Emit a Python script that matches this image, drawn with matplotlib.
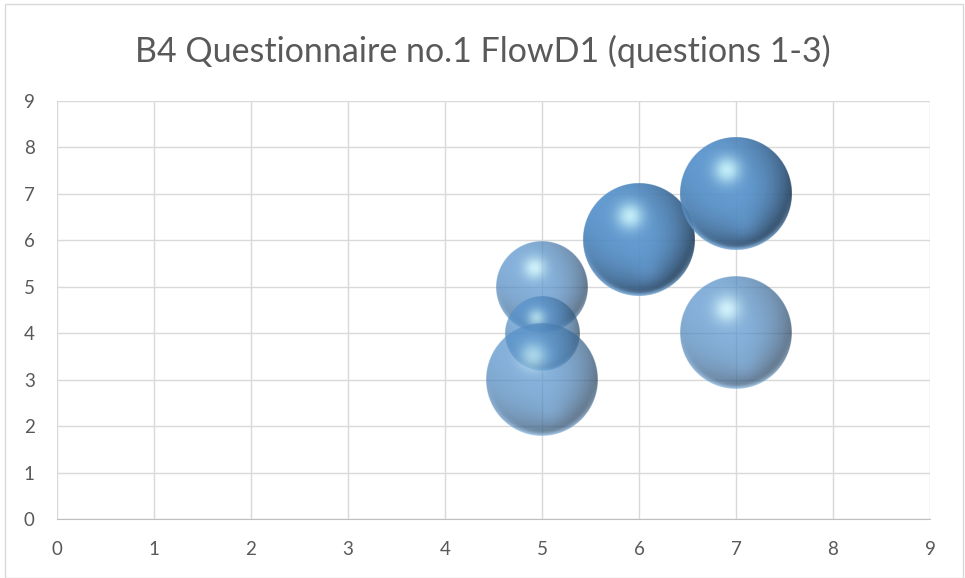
import numpy as np
import matplotlib
matplotlib.use("Agg")
import matplotlib.pyplot as plt
from matplotlib.patches import Rectangle

# bubble data (duplicated points stack up and look darker)
x_vals = [5, 5, 5, 6, 6, 7, 7, 7]
y_vals = [5, 4, 3, 6, 6, 7, 7, 4]
sizes = [6, 4, 9, 9, 9, 9, 9, 9]
ticks = list(range(10))
title = "B4 Questionnaire no.1 FlowD1 (questions 1-3)"

W, H = 965, 578
fig = plt.figure(figsize=(W / 100, H / 100), dpi=100)
plt.rcParams['font.family'] = ['Lato', 'DejaVu Sans']

# chart border
fig.patches.append(Rectangle((5 / W, 0), 958 / W, 574 / H, transform=fig.transFigure,
                             fill=False, edgecolor="#d9d9d9", linewidth=1))

ax = fig.add_axes([57 / W, 59 / H, 873 / W, 418 / H])
ax.set_xlim(0, 9)
ax.set_ylim(0, 9)
ax.set_xticks(ticks)
ax.set_yticks(ticks)
ax.grid(True, color="#d9d9d9", linewidth=1)
ax.set_axisbelow(True)
for s in ["top", "right", "left"]:
    ax.spines[s].set_visible(False)
ax.spines["bottom"].set_color("#bfbfbf")
ax.tick_params(length=0, labelsize=13.5, colors="#595959")
ax.tick_params(axis="x", pad=16)
ax.tick_params(axis="y", pad=16)
fig.text(0.5, 1 - 51 / H, title, ha="center", va="center", fontsize=24.5, color="#595959")


def sphere_image(n=240, alpha=0.72):
    u = np.linspace(-1, 1, n)
    uu, vv = np.meshgrid(u, -u)
    rho = np.sqrt(uu ** 2 + vv ** 2)
    base = np.array([86, 146, 204]) / 255.0
    dark = np.array([18, 34, 52]) / 255.0
    hi = np.array([205, 250, 255]) / 255.0
    rim = np.array([140, 195, 245]) / 255.0
    # edge darkening, stronger toward lower right
    dirw = 0.5 + 0.5 * np.clip((uu - vv) / np.sqrt(2) / np.maximum(rho, 1e-6), -1, 1)
    dk = np.clip(rho, 0, 1) ** 2.2 * dirw * 0.85
    col = base * (1 - dk[..., None]) + dark * dk[..., None]
    # soft reflection lower right
    d2 = np.sqrt((uu - 0.15) ** 2 + (vv + 0.55) ** 2)
    r2 = np.exp(-(d2 / 0.25) ** 2) * 0.3
    col = col * (1 - r2[..., None]) + base[None, None, :] * 1.1 * r2[..., None]
    # main highlight
    d = np.sqrt((uu + 0.16) ** 2 + (vv - 0.42) ** 2)
    h = np.exp(-(d / 0.24) ** 2) * 0.85
    col = col * (1 - h[..., None]) + hi * h[..., None]
    # bottom rim light
    rw = np.exp(-((1 - rho) / 0.06) ** 2) * np.clip(-vv, 0, 1) * 0.8
    col = col * (1 - rw[..., None]) + rim * rw[..., None]
    col = np.clip(col, 0, 1)
    edge = np.clip((1 - rho) * n / 2 + 0.5, 0, 1)
    a = edge * alpha
    return np.dstack([col, a])


img = sphere_image()
fig.canvas.draw()
# pixel to data scale
px_per_x = ax.bbox.width / 9
px_per_y = ax.bbox.height / 9
r_max = 56
smax = max(sizes)
for x, y, s in zip(x_vals, y_vals, sizes):
    r = r_max * np.sqrt(s / smax)
    rx, ry = r / px_per_x, r / px_per_y
    ax.imshow(img, extent=(x - rx, x + rx, y - ry, y + ry), aspect="auto",
              interpolation="antialiased", zorder=3)

ax.set_xlim(0, 9)
ax.set_ylim(0, 9)
fig.savefig("out.png", dpi=100)
